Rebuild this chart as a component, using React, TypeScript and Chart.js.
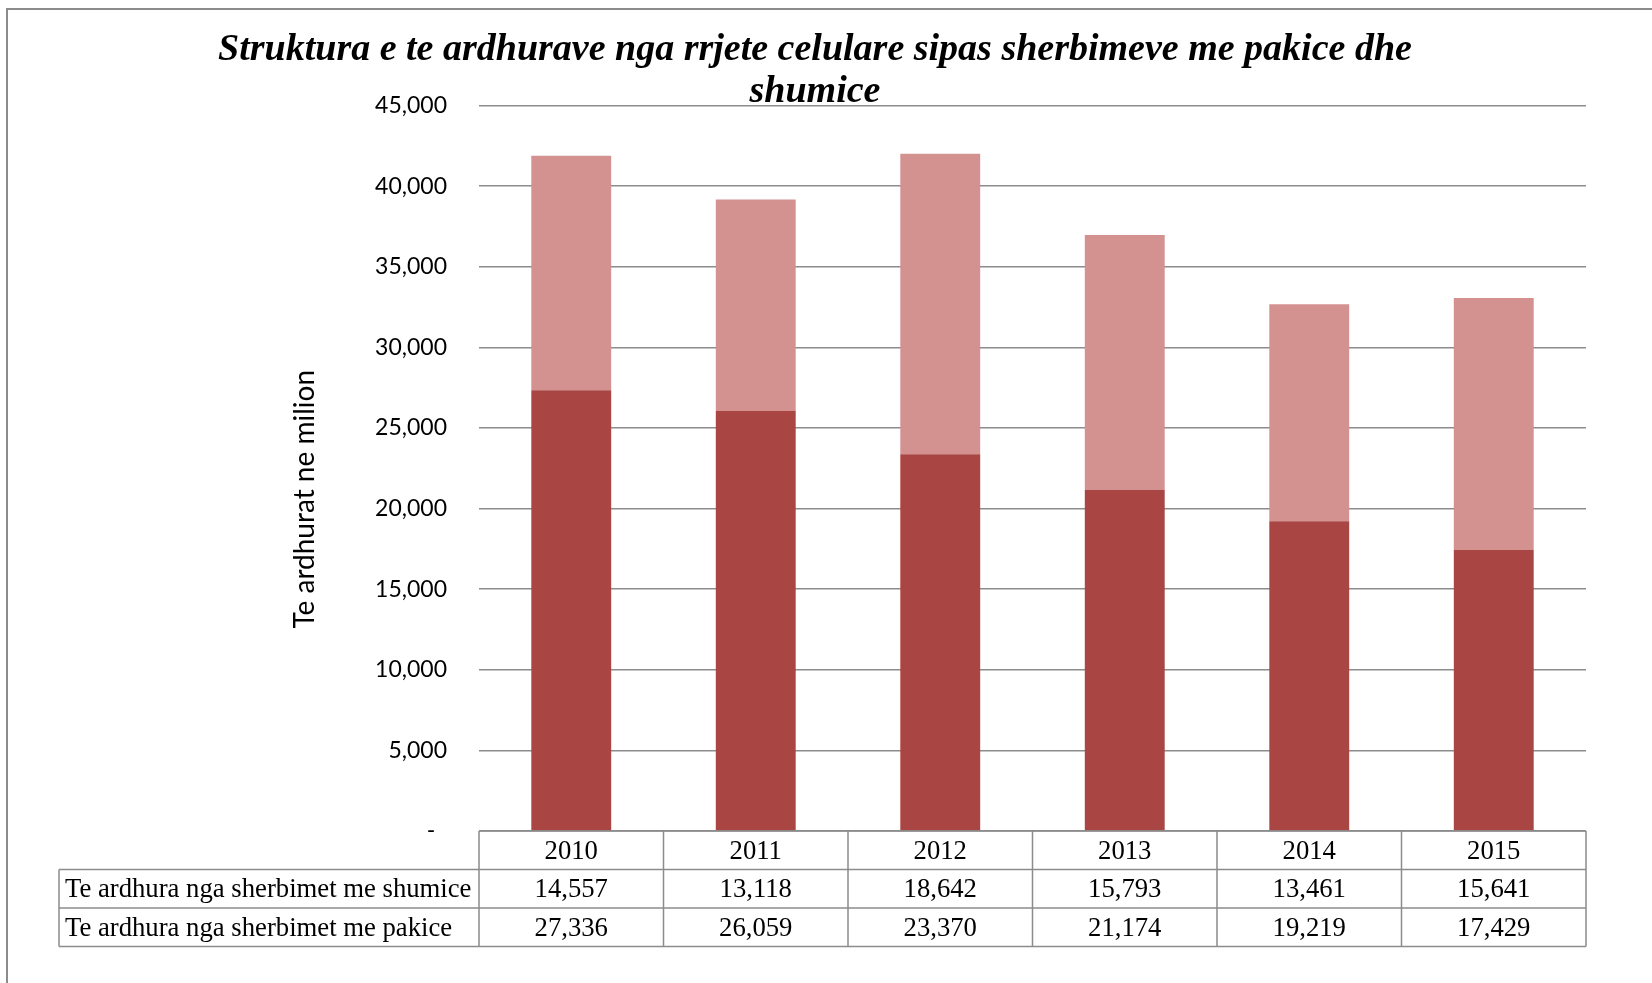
import React, { useEffect, useRef } from "react";
import { Chart, registerables } from "chart.js";

Chart.register(...registerables);

const categories = ["2010", "2011", "2012", "2013", "2014", "2015"];
const shumice = [14557, 13118, 18642, 15793, 13461, 15641];
const pakice = [27336, 26059, 23370, 21174, 19219, 17429];
const seriesNames = [
  "Te ardhura nga sherbimet me shumice",
  "Te ardhura nga sherbimet me pakice",
];
const yMax = 45000;
const yStep = 5000;
const titleLines = [
  "Struktura e te ardhurave nga rrjete celulare sipas sherbimeve me pakice dhe",
  "shumice",
];
const yTitle = "Te ardhurat ne milion";

const fmt = (v: number) => v.toLocaleString("en-US");

const GRID = "#8c8c8c";

const tablePlugin = {
  id: "dataTable",
  afterDraw(chart: any) {
    const { ctx, chartArea } = chart;
    const xs = chart.scales.x;
    const n = categories.length;
    const cw = (chartArea.right - chartArea.left) / n;
    const top = chartArea.bottom;
    const rh = 38.5;
    const labelLeft = 59;
    ctx.save();
    ctx.strokeStyle = GRID;
    ctx.lineWidth = 1.5;
    ctx.beginPath();
    ctx.moveTo(chartArea.left, top);
    ctx.lineTo(chartArea.right, top);
    for (let r = 1; r <= 3; r++) {
      ctx.moveTo(labelLeft, top + r * rh);
      ctx.lineTo(chartArea.right, top + r * rh);
    }
    ctx.moveTo(labelLeft, top + rh);
    ctx.lineTo(labelLeft, top + 3 * rh);
    for (let i = 0; i <= n; i++) {
      const xb = chartArea.left + i * cw;
      ctx.moveTo(xb, top);
      ctx.lineTo(xb, top + 3 * rh);
    }
    ctx.stroke();

    ctx.fillStyle = "#000";
    ctx.font = '26.7px "Liberation Serif"';
    ctx.textBaseline = "alphabetic";
    ctx.textAlign = "center";
    for (let i = 0; i < n; i++) {
      const cx = xs.getPixelForValue(i);
      ctx.fillText(categories[i], cx, top + 27.5);
      ctx.fillText(fmt(shumice[i]), cx, top + rh + 27.5);
      ctx.fillText(fmt(pakice[i]), cx, top + 2 * rh + 27.5);
    }
    ctx.textAlign = "left";
    ctx.fillText(seriesNames[0], labelLeft + 6, top + rh + 27.5);
    ctx.fillText(seriesNames[1], labelLeft + 6, top + 2 * rh + 27.5);

    // y axis title
    ctx.save();
    ctx.translate(314, (chartArea.top + chartArea.bottom) / 2 + 31);
    ctx.rotate(-Math.PI / 2);
    ctx.font = '28px "Lato"';
    ctx.textAlign = "center";
    ctx.fillText(yTitle, 0, 0);
    ctx.restore();

    ctx.restore();
  },
};

export default function App() {
  const ref = useRef<HTMLCanvasElement | null>(null);

  useEffect(() => {
    if (!ref.current) return;
    const chart = new Chart(ref.current, {
      type: "bar",
      data: {
        labels: categories,
        datasets: [
          {
            label: seriesNames[1],
            data: pakice,
            backgroundColor: "#A94644",
            borderWidth: 0,
            categoryPercentage: 1,
            barPercentage: 0.433,
          },
          {
            label: seriesNames[0],
            data: shumice,
            backgroundColor: "#D39190",
            borderWidth: 0,
            categoryPercentage: 1,
            barPercentage: 0.433,
          },
        ],
      },
      options: {
        responsive: false,
        animation: false,
        layout: { padding: { top: 0, right: 66, bottom: 152, left: 44 } },
        plugins: {
          legend: { display: false },
          tooltip: { enabled: false },
          title: {
            display: true,
            text: titleLines,
            color: "#000",
            font: {
              family: '"Liberation Serif"',
              size: 38,
              style: "italic",
              weight: "bold",
              lineHeight: 1.1,
            },
            padding: { top: 29, bottom: -7 },
          },
        },
        scales: {
          x: {
            display: false,
            stacked: true,
          },
          y: {
            stacked: true,
            min: 0,
            max: yMax,
            afterFit(scale: any) {
              scale.width = 435;
            },
            border: { display: false },
            grid: { color: GRID, lineWidth: 1.5, drawTicks: false },
            ticks: {
              stepSize: yStep,
              padding: 32,
              color: "#000",
              font: { family: '"Lato"', size: 23 },
              callback: (v: any) => (Number(v) === 0 ? "-  " : fmt(Number(v))),
            },
          },
        },
      },
      plugins: [tablePlugin],
    });
    return () => chart.destroy();
  }, []);

  return (
    <div
      style={{
        position: "fixed",
        left: 0,
        top: 0,
        width: 1652,
        height: 983,
        overflow: "hidden",
        background: "#fff",
      }}
    >
      <div
        style={{
          position: "absolute",
          left: 6,
          top: 8,
          width: 1800,
          height: 1200,
          borderLeft: "2px solid #8c8c8c",
          borderTop: "2px solid #8c8c8c",
        }}
      />
      <canvas
        ref={ref}
        width={1652}
        height={983}
        style={{ position: "absolute", left: 0, top: 0, width: 1652, height: 983 }}
      />
    </div>
  );
}
